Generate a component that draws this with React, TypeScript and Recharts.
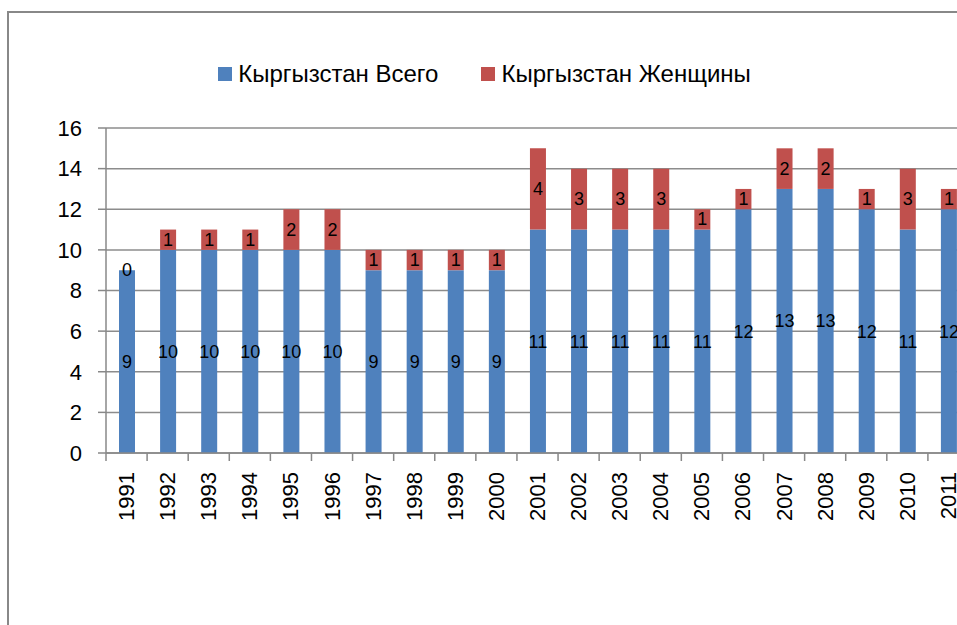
import React from 'react';
import { BarChart, Bar, XAxis, YAxis, CartesianGrid, LabelList } from 'recharts';

const years = [
  '1991', '1992', '1993', '1994', '1995', '1996', '1997', '1998', '1999', '2000',
  '2001', '2002', '2003', '2004', '2005', '2006', '2007', '2008', '2009', '2010', '2011',
];
const totalValues = [9, 10, 10, 10, 10, 10, 9, 9, 9, 9, 11, 11, 11, 11, 11, 12, 13, 13, 12, 11, 12];
const womenValues = [0, 1, 1, 1, 2, 2, 1, 1, 1, 1, 4, 3, 3, 3, 1, 1, 2, 2, 1, 3, 1];
const yTicks = [0, 2, 4, 6, 8, 10, 12, 14, 16];

const seriesNames = ['Кыргызстан Всего', 'Кыргызстан Женщины'];
const colors = ['#4F81BD', '#C0504D'];

const FONT = '"Liberation Sans", Arial, sans-serif';
const CHART_W = 969;
const CHART_H = 625;
const AXIS_W = 106;
const band = (CHART_W - AXIS_W) / years.length;

const data = years.map((year, i) => ({
  year,
  total: totalValues[i],
  women: womenValues[i],
}));

// rotated year labels + tick marks between categories (Excel style)
const YearTick = (props: any) => {
  const { x, y, index } = props;
  const axisY = y - 19;
  const left = x - band / 2;
  return (
    <g>
      <line x1={left} y1={axisY} x2={left} y2={axisY + 8} stroke="#888" strokeWidth={1.5} />
      {index === years.length - 1 && (
        <line x1={x + band / 2} y1={axisY} x2={x + band / 2} y2={axisY + 8} stroke="#888" strokeWidth={1.5} />
      )}
      <text
        x={x}
        y={y}
        transform={`rotate(-90, ${x}, ${y})`}
        textAnchor="end"
        dominantBaseline="central"
        fontSize={22}
        fontFamily={FONT}
        fill="#000"
      >
        {props.payload.value}
      </text>
    </g>
  );
};

// women labels drawn from the total bar, so a zero segment still gets its "0"
const WomenLabel = (props: any) => {
  const { x, y, width, height, index } = props;
  const total = totalValues[index];
  const women = womenValues[index];
  const unit = height / total;
  return (
    <text
      x={x + width / 2}
      y={y - (women * unit) / 2}
      textAnchor="middle"
      dominantBaseline="central"
      fontSize={18}
      fontFamily={FONT}
      fill="#000"
    >
      {women}
    </text>
  );
};

export default function App() {
  return (
    <div
      style={{
        position: 'fixed',
        left: 0,
        top: 0,
        width: 957,
        height: 625,
        overflow: 'hidden',
        background: '#fff',
      }}
    >
      <div
        style={{
          position: 'absolute',
          left: 7,
          top: 11,
          width: 1000,
          height: 700,
          border: '2px solid #888',
        }}
      />
      <div
        style={{
          position: 'absolute',
          left: 0,
          top: 60,
          width: CHART_W,
          display: 'flex',
          justifyContent: 'center',
          fontFamily: FONT,
          fontSize: 24,
          color: '#000',
        }}
      >
        {seriesNames.map((name, i) => (
          <div key={name} style={{ display: 'flex', alignItems: 'center', marginLeft: i ? 43 : 0 }}>
            <span style={{ width: 14, height: 14, background: colors[i], marginRight: 6 }} />
            <span>{name}</span>
          </div>
        ))}
      </div>
      <div style={{ position: 'absolute', left: 0, top: 0 }}>
        <BarChart
          width={CHART_W}
          height={CHART_H}
          data={data}
          margin={{ top: 128, right: 0, left: 0, bottom: 72 }}
        >
          <CartesianGrid vertical={false} stroke="#8c8c8c" strokeWidth={1.5} />
          <XAxis
            dataKey="year"
            height={100}
            interval={0}
            tickLine={false}
            tickSize={8}
            tickMargin={11}
            axisLine={{ stroke: '#888', strokeWidth: 1.5 }}
            tick={<YearTick />}
          />
          <YAxis
            width={AXIS_W}
            domain={[0, 16]}
            ticks={yTicks}
            interval={0}
            tickSize={8}
            tickMargin={16}
            axisLine={{ stroke: '#888', strokeWidth: 1.5 }}
            tickLine={{ stroke: '#888', strokeWidth: 1.5 }}
            tick={{ fontSize: 22, fill: '#000', fontFamily: FONT }}
          />
          <Bar dataKey="total" stackId="a" fill={colors[0]} barSize={16} isAnimationActive={false}>
            <LabelList dataKey="total" position="center" fontSize={18} fill="#000" fontFamily={FONT} />
            <LabelList dataKey="women" content={<WomenLabel />} />
          </Bar>
          <Bar dataKey="women" stackId="a" fill={colors[1]} barSize={16} isAnimationActive={false} />
        </BarChart>
      </div>
    </div>
  );
}
